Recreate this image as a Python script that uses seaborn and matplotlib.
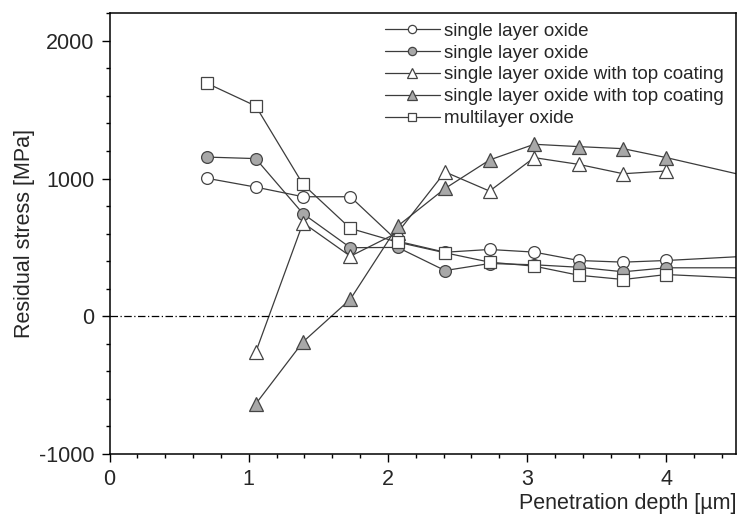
import numpy as np
import pandas as pd
import matplotlib
matplotlib.use("Agg")
import matplotlib.pyplot as plt
import seaborn as sns

# data
depth = [0.70, 1.05, 1.39, 1.73, 2.07, 2.41, 2.73, 3.05, 3.37, 3.69, 4.00, 4.67]
open_circle = [1002, 938, 868, 868, 545, 465, 485, 466, 405, 393, 405, 441]
filled_circle = [1156, 1145, 745, 498, 500, 332, 383, 374, 356, 323, 352, 352]
depth_tri_open = [1.05, 1.39, 1.73, 2.07, 2.41, 2.73, 3.05, 3.37, 3.69, 4.00]
open_triangle = [-262, 679, 436, 608, 1048, 909, 1152, 1103, 1035, 1055]
depth_tri_filled = [1.05, 1.39, 1.73, 2.07, 2.41, 2.73, 3.05, 3.37, 3.69, 4.00, 4.67]
filled_triangle = [-637, -186, 124, 655, 928, 1135, 1249, 1232, 1217, 1152, 996]
square = [1692, 1527, 958, 638, 538, 461, 393, 364, 298, 267, 303, 271]

labels = ["single layer oxide", "single layer oxide",
          "single layer oxide with top coating", "single layer oxide with top coating",
          "multilayer oxide"]

sns.set_style("ticks")
plt.rcParams['font.family'] = ['Liberation Sans', 'DejaVu Sans']
plt.rcParams['axes.unicode_minus'] = False

fig = plt.figure(figsize=(7.4, 5.18), dpi=100)
ax = fig.add_axes([0.148, 0.1236, 0.8466, 0.8507])

line_c = "#3c3c3c"
grey = "#a8a8a8"

series = [
    (depth, open_circle, "o", "white", 8.5),
    (depth, filled_circle, "o", grey, 8.5),
    (depth_tri_open, open_triangle, "^", "white", 9.5),
    (depth_tri_filled, filled_triangle, "^", grey, 9.5),
    (depth, square, "s", "white", 8),
]

for (xs, ys, m, fc, ms), lab in zip(series, labels):
    sns.lineplot(x=xs, y=ys, ax=ax, marker=m, markersize=ms, markerfacecolor=fc,
                 markeredgecolor="#444444", markeredgewidth=0.9, color=line_c,
                 linewidth=0.9, label=lab, sort=False, estimator=None)

ax.axhline(0, color="black", linewidth=0.9, dashes=(6, 2, 1, 2))

ax.set_xlim(0, 4.5)
ax.set_ylim(-1000, 2200)
ax.set_xticks([0, 1, 2, 3, 4])
ax.set_yticks([-1000, 0, 1000, 2000])
ax.set_xticks(np.arange(0, 4.51, 0.2), minor=True)
ax.set_yticks(np.arange(-1000, 2201, 200), minor=True)
ax.tick_params(which="major", direction="out", length=6, width=1, labelsize=15.5, pad=5, color="black")
ax.tick_params(which="minor", direction="out", length=3, width=1, color="black")
for s in ax.spines.values():
    s.set_linewidth(1.1)
    s.set_color("black")
    s.set_visible(True)

ax.set_xlabel("Penetration depth [µm]", fontsize=15.5, loc="right", labelpad=2)
ax.set_ylabel("Residual stress [MPa]", fontsize=15.5, labelpad=3)

ax.legend(loc="upper left", bbox_to_anchor=(0.425, 1.0), frameon=False, fontsize=13.5,
          handlelength=2.9, handletextpad=0.25, labelspacing=0.25, markerscale=0.7,
          borderaxespad=0.1)

fig.savefig("out.png", dpi=100)
